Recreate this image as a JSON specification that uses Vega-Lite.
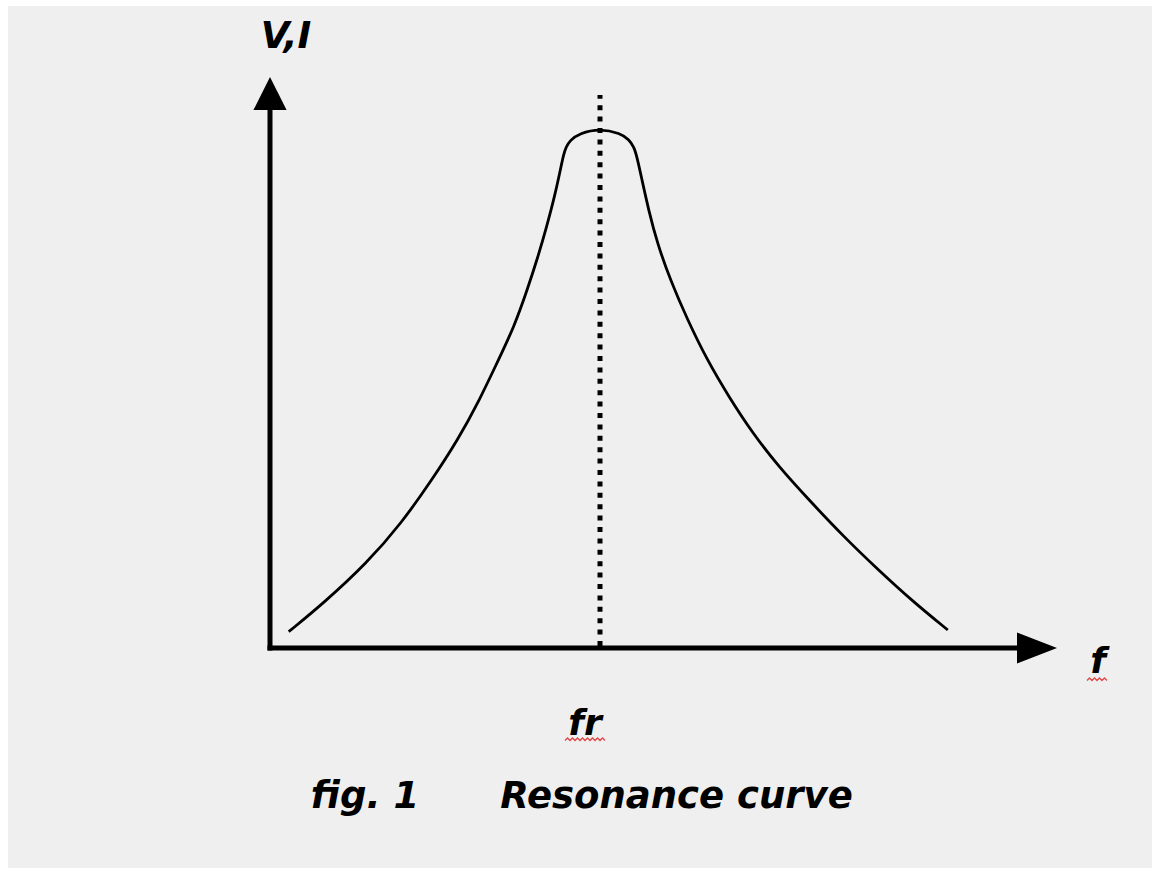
{
  "$schema": "https://vega.github.io/schema/vega-lite/v6.json",
  "width": 1152,
  "height": 870,
  "autosize": {"type": "fit", "contains": "padding"},
  "padding": {"left": 8, "top": 6, "right": 0, "bottom": 2},
  "background": "#ffffff",
  "config": {"view": {"fill": "#efefef", "stroke": null}},
  "datasets": {
    "curve": [
      {"x": 18.7, "y": 16.3}, {"x": 53.4, "y": 44.7}, {"x": 96.7, "y": 84.7}, {"x": 131.4, "y": 124.7},
      {"x": 161.8, "y": 168}, {"x": 187.8, "y": 208}, {"x": 209.5, "y": 248}, {"x": 226.8, "y": 284.7},
      {"x": 244.2, "y": 321.3}, {"x": 257.2, "y": 358}, {"x": 268, "y": 391.3}, {"x": 276.7, "y": 421.3},
      {"x": 285.4, "y": 454.7}, {"x": 291, "y": 481.3}, {"x": 293.5, "y": 493}, {"x": 296, "y": 501},
      {"x": 300, "y": 507.5}, {"x": 309.2, "y": 514.7}, {"x": 330, "y": 519.5},
      {"x": 350.4, "y": 514.7}, {"x": 359, "y": 508.5}, {"x": 364, "y": 501}, {"x": 367, "y": 491}, {"x": 372, "y": 468},
      {"x": 378.6, "y": 438}, {"x": 387.3, "y": 404.7}, {"x": 400.3, "y": 368}, {"x": 417.6, "y": 328},
      {"x": 437.1, "y": 288}, {"x": 458.8, "y": 251.3}, {"x": 482.7, "y": 214.7}, {"x": 508.7, "y": 181.3},
      {"x": 539, "y": 148}, {"x": 573.7, "y": 111.3}, {"x": 608.4, "y": 78}, {"x": 643.1, "y": 46.3},
      {"x": 677.8, "y": 18}
    ],
    "labels": [
      {"x": 16, "y": 600, "text": "V,I", "size": 37},
      {"x": 828, "y": -25, "text": "f", "size": 36},
      {"x": 315, "y": -87, "text": "fr", "size": 36},
      {"x": 95, "y": -160, "text": "fig. 1", "size": 37},
      {"x": 406.5, "y": -160, "text": "Resonance curve", "size": 37}
    ],
    "squiggles": [
      {"g": "f", "x": 817, "y": -32.5}, {"g": "f", "x": 819.5, "y": -30}, {"g": "f", "x": 822, "y": -32.5},
      {"g": "f", "x": 824.5, "y": -30}, {"g": "f", "x": 827, "y": -32.5}, {"g": "f", "x": 829.5, "y": -30},
      {"g": "f", "x": 832, "y": -32.5}, {"g": "f", "x": 834.5, "y": -30}, {"g": "f", "x": 837, "y": -32.5},
      {"g": "fr", "x": 295, "y": -92.5}, {"g": "fr", "x": 297.5, "y": -90}, {"g": "fr", "x": 300, "y": -92.5},
      {"g": "fr", "x": 302.5, "y": -90}, {"g": "fr", "x": 305, "y": -92.5}, {"g": "fr", "x": 307.5, "y": -90},
      {"g": "fr", "x": 310, "y": -92.5}, {"g": "fr", "x": 312.5, "y": -90}, {"g": "fr", "x": 315, "y": -92.5},
      {"g": "fr", "x": 317.5, "y": -90}, {"g": "fr", "x": 320, "y": -92.5}, {"g": "fr", "x": 322.5, "y": -90},
      {"g": "fr", "x": 325, "y": -92.5}, {"g": "fr", "x": 327.5, "y": -90}, {"g": "fr", "x": 330, "y": -92.5},
      {"g": "fr", "x": 332.5, "y": -90}, {"g": "fr", "x": 335, "y": -92.5}
    ]
  },
  "layer": [
    {
      "data": {"values": [{"x": 330, "y": 2, "y2": 553}]},
      "mark": {"type": "rule", "strokeWidth": 5, "strokeDash": [5, 6.4], "color": "#000000"},
      "encoding": {
        "x": {"field": "x", "type": "quantitative", "scale": {"domain": [-262, 882], "nice": false, "zero": false}, "axis": null},
        "y": {"field": "y", "type": "quantitative", "scale": {"domain": [-220, 642], "nice": false, "zero": false}, "axis": null},
        "y2": {"field": "y2"}
      }
    },
    {
      "data": {"values": [{"x": 0, "y": 0, "y2": 540}]},
      "mark": {"type": "rule", "strokeWidth": 5, "strokeCap": "square", "color": "#000000"},
      "encoding": {
        "x": {"field": "x", "type": "quantitative"},
        "y": {"field": "y", "type": "quantitative"},
        "y2": {"field": "y2"}
      }
    },
    {
      "data": {"values": [{"x": 0, "x2": 750, "y": 0}]},
      "mark": {"type": "rule", "strokeWidth": 5, "strokeCap": "square", "color": "#000000"},
      "encoding": {
        "x": {"field": "x", "type": "quantitative"},
        "x2": {"field": "x2"},
        "y": {"field": "y", "type": "quantitative"}
      }
    },
    {
      "data": {"values": [{"x": 0, "y": 554.5}]},
      "mark": {"type": "point", "shape": "M0,-1L1,1L-1,1Z", "size": 1100, "filled": true, "color": "#000000", "opacity": 1},
      "encoding": {
        "x": {"field": "x", "type": "quantitative"},
        "y": {"field": "y", "type": "quantitative"}
      }
    },
    {
      "data": {"values": [{"x": 767, "y": 0}]},
      "mark": {"type": "point", "shape": "M-1,-0.78L1,0L-1,0.78Z", "size": 1600, "filled": true, "color": "#000000", "opacity": 1},
      "encoding": {
        "x": {"field": "x", "type": "quantitative"},
        "y": {"field": "y", "type": "quantitative"}
      }
    },
    {
      "data": {"name": "curve"},
      "mark": {"type": "line", "strokeWidth": 2.8, "color": "#000000", "interpolate": "basis"},
      "encoding": {
        "x": {"field": "x", "type": "quantitative"},
        "y": {"field": "y", "type": "quantitative"}
      }
    },
    {
      "data": {"name": "squiggles"},
      "mark": {"type": "line", "strokeWidth": 1.3, "color": "#e04848", "opacity": 1},
      "encoding": {
        "x": {"field": "x", "type": "quantitative"},
        "y": {"field": "y", "type": "quantitative"},
        "detail": {"field": "g"}
      }
    },
    {
      "data": {"name": "labels"},
      "mark": {"type": "text", "font": "DejaVu Sans", "fontWeight": "bold", "fontStyle": "italic", "align": "center", "baseline": "alphabetic", "color": "#000000"},
      "encoding": {
        "x": {"field": "x", "type": "quantitative"},
        "y": {"field": "y", "type": "quantitative"},
        "text": {"field": "text"},
        "size": {"field": "size", "type": "quantitative", "scale": null}
      }
    }
  ]
}
